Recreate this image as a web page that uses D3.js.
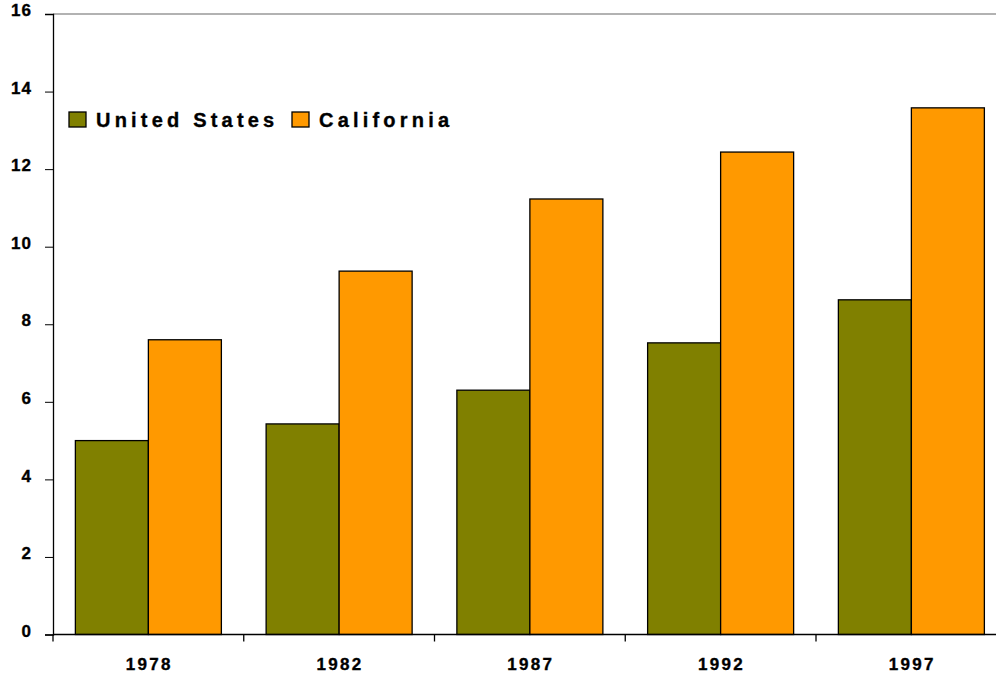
<!DOCTYPE html>
<html>
<head>
<meta charset="utf-8">
<script src="https://cdn.jsdelivr.net/npm/d3@7"></script>
<style>
  body { margin: 0; background: #fff; }
  text { font-family: "Liberation Sans", Arial, sans-serif; font-weight: bold; fill: #000; stroke: #000; stroke-width: 0.35px; }
</style>
</head>
<body>
<div id="chart"></div>
<script>
// chart data
const YEARS = ["1978", "1982", "1987", "1992", "1997"];
const SERIES = ["United States", "California"];
const US_VALUES = [5.0, 5.43, 6.3, 7.52, 8.63];
const CA_VALUES = [7.6, 9.37, 11.23, 12.44, 13.58];
const Y_TICKS = [0, 2, 4, 6, 8, 10, 12, 14, 16];
const COLORS = ["#808000", "#FF9900"];

const WIDTH = 996, HEIGHT = 674;
const MARGINS = {left: 53, top: 14, bottom: 39};
const STEP = 190.75;

const SVG = d3.select("#chart")
              .append("svg")
                .attr("width", WIDTH)
                .attr("height", HEIGHT);

const X_SCALE = d3.scaleBand()
                  .domain(YEARS)
                  .range([MARGINS.left, MARGINS.left + STEP * YEARS.length])
                  .paddingInner(0.2346)
                  .paddingOuter(0.1173);

const X_SUB = d3.scaleBand()
                .domain(SERIES)
                .range([0, X_SCALE.bandwidth()]);

const Y_SCALE = d3.scaleLinear()
                  .domain([0, 16])
                  .range([HEIGHT - MARGINS.bottom - 0.5, MARGINS.top]);

// gray top border
SVG.append("line")
   .attr("x1", MARGINS.left).attr("x2", WIDTH)
   .attr("y1", MARGINS.top).attr("y2", MARGINS.top)
   .attr("stroke", "#999").attr("stroke-width", 1.5);

// bars
const rows = YEARS.map((y, i) => ({year: y, values: [US_VALUES[i], CA_VALUES[i]]}));
const groups = SVG.selectAll(".grp")
                  .data(rows)
                  .enter()
                  .append("g")
                    .attr("transform", (d) => "translate(" + X_SCALE(d.year) + ",0)");
groups.selectAll("rect")
      .data((d) => d.values.map((v, j) => ({s: SERIES[j], v: v, c: COLORS[j]})))
      .enter()
      .append("rect")
        .attr("x", (d) => X_SUB(d.s))
        .attr("width", X_SUB.bandwidth())
        .attr("y", (d) => Y_SCALE(d.v))
        .attr("height", (d) => Y_SCALE(0) - Y_SCALE(d.v))
        .attr("fill", (d) => d.c)
        .attr("stroke", "#000")
        .attr("stroke-width", 1.3);

// y axis
const yAxis = SVG.append("g")
                 .attr("transform", "translate(" + MARGINS.left + ",0)")
                 .call(d3.axisLeft(Y_SCALE).tickValues(Y_TICKS).tickSize(8).tickPadding(13));
yAxis.select(".domain").attr("stroke-width", 1.3);
yAxis.selectAll("text")
     .attr("font-size", "17px")
     .attr("font-family", "Liberation Sans, Arial, sans-serif")
     .attr("font-weight", "bold")
     .attr("letter-spacing", "1px")
     .attr("dy", "0.1em");

// x axis with ticks between groups
const xAxis = SVG.append("g")
                 .attr("transform", "translate(0," + Y_SCALE(0) + ")");
xAxis.append("line")
     .attr("x1", MARGINS.left).attr("x2", WIDTH)
     .attr("stroke", "#000").attr("stroke-width", 1.3);
xAxis.selectAll(".tk")
     .data(YEARS)
     .enter()
     .append("line")
       .attr("x1", (d) => X_SCALE(d) - X_SCALE.step() * X_SCALE.paddingInner() / 2)
       .attr("x2", (d) => X_SCALE(d) - X_SCALE.step() * X_SCALE.paddingInner() / 2)
       .attr("y1", 0).attr("y2", 7)
       .attr("stroke", "#000").attr("stroke-width", 1.3);
xAxis.selectAll(".lbl")
     .data(YEARS)
     .enter()
     .append("text")
       .attr("x", (d) => X_SCALE(d) + X_SCALE.bandwidth() / 2 + 1)
       .attr("y", 35)
       .attr("text-anchor", "middle")
       .attr("font-size", "17px")
       .attr("letter-spacing", "2.3px")
       .text((d) => d);

// legend
const LEGEND_X = [69, 292];
const legend = SVG.selectAll(".leg")
                  .data(SERIES)
                  .enter()
                  .append("g")
                    .attr("transform", (d, i) => "translate(" + LEGEND_X[i] + ",112)");
legend.append("rect")
      .attr("width", 17).attr("height", 15)
      .attr("fill", (d, i) => COLORS[i])
      .attr("stroke", "#000").attr("stroke-width", 1.3);
legend.append("text")
      .attr("x", 27).attr("y", 15)
      .attr("font-size", "20px")
      .attr("letter-spacing", "4.2px")
      .text((d) => d);
</script>
</body>
</html>
